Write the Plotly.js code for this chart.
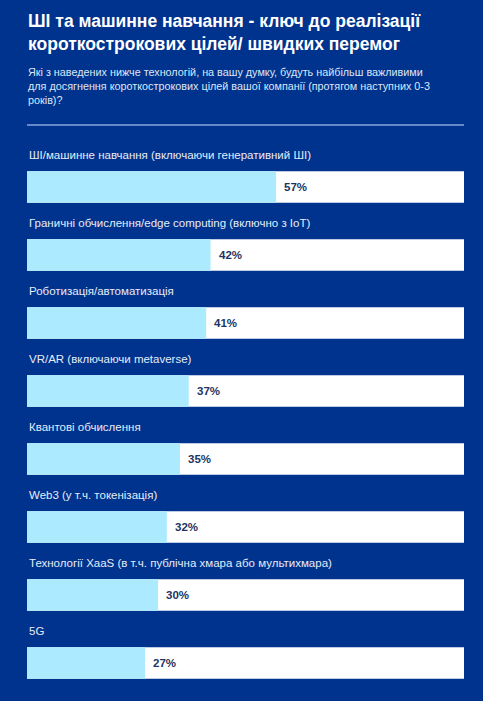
<!DOCTYPE html>
<html>
<head>
<meta charset="utf-8">
<script src="https://cdn.plot.ly/plotly-3.0.1.min.js"></script>
<style>
  html, body { margin: 0; padding: 0; background: #00338D; }
  #plot { width: 483px; height: 701px; }
</style>
</head>
<body>
<div id="plot"></div>
<script>
"use strict";

// Survey: which technologies matter most for short-term goals (0-3 years)
const categories = [
    "ШІ/машинне навчання (включаючи генеративний ШІ)",
    "Граничні обчислення/edge computing (включно з IoT)",
    "Роботизація/автоматизація",
    "VR/AR (включаючи metaverse)",
    "Квантові обчислення",
    "Web3 (у т.ч. токенізація)",
    "Технології XaaS (в т.ч. публічна хмара або мультихмара)",
    "5G",
];
const values = [57, 42, 41, 37, 35, 32, 30, 27];
const fullScale = 100;

const titleLines = [
    "ШІ та машинне навчання - ключ до реалізації",
    "короткострокових цілей/ швидких перемог",
];
const subtitleLines = [
    "Які з наведених нижче технологій, на вашу думку, будуть найбільш важливими",
    "для досягнення короткострокових цілей вашої компанії (протягом наступних 0-3",
    "років)?",
];

const BG = "#00338D";
const BAR = "#ACEAFF";
const FONT = "Arial, 'Liberation Sans', sans-serif";

const idx = categories.map((_, i) => i);

const traces = [
    // white track behind each bar
    {
        type: "bar", orientation: "h",
        x: categories.map(() => fullScale), y: idx,
        width: 0.46,
        marker: { color: "#ffffff", line: { width: 0 } },
        hoverinfo: "skip", showlegend: false,
    },
    {
        type: "bar", orientation: "h",
        x: values, y: idx,
        width: 0.46,
        marker: { color: BAR, line: { width: 0 } },
        hoverinfo: "skip", showlegend: false,
    },
];

const annotations = [];
categories.forEach((c, i) => {
    annotations.push({
        xref: "paper", yref: "y", x: 0, y: i,
        xanchor: "left", yanchor: "middle", yshift: 32,
        text: c, showarrow: false,
        font: { family: FONT, size: 11.5, color: "#e6ecf8" },
    });
    annotations.push({
        xref: "x", yref: "y", x: values[i], y: i,
        xanchor: "left", yanchor: "middle", xshift: 6,
        text: "<b>" + values[i] + "%</b>", showarrow: false,
        font: { family: FONT, size: 11.5, color: "#1c3464" },
    });
});

// title + question as annotations in the top margin
annotations.push({
    xref: "paper", yref: "paper", x: -0.002, y: 1.265,
    xanchor: "left", yanchor: "top", align: "left",
    text: "<b>" + titleLines.join("<br>") + "</b>", showarrow: false,
    font: { family: FONT, size: 17.5, color: "#ffffff" },
});
annotations.push({
    xref: "paper", yref: "paper", x: -0.002, y: 1.163,
    xanchor: "left", yanchor: "top", align: "left",
    text: subtitleLines.join("<br>"), showarrow: false,
    font: { family: FONT, size: 10.8, color: "#dde6f8" },
});

const layout = {
    width: 483, height: 701,
    margin: { l: 27, r: 19, t: 153, b: 4, pad: 0 },
    paper_bgcolor: BG, plot_bgcolor: BG,
    barmode: "overlay",
    showlegend: false,
    xaxis: { range: [0, fullScale], visible: false, fixedrange: true },
    yaxis: { range: [categories.length - 0.5, -0.5], visible: false, fixedrange: true },
    annotations: annotations,
    shapes: [{
        type: "line", xref: "paper", yref: "paper",
        x0: 0, x1: 1, y0: 1.0515, y1: 1.0515,
        line: { color: "#8aa6dc", width: 1.5 },
    }],
};

Plotly.newPlot("plot", traces, layout, { staticPlot: true, displayModeBar: false });
</script>
</body>
</html>
